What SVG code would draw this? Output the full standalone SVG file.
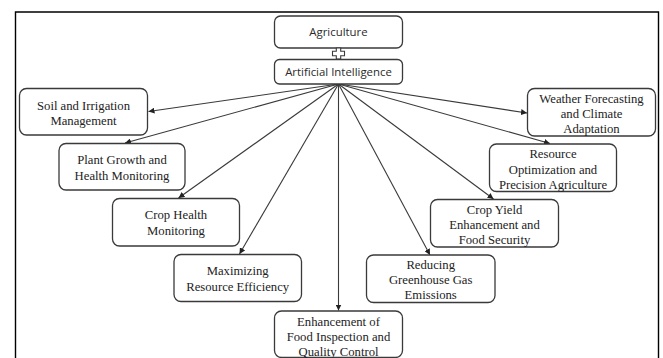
<svg xmlns="http://www.w3.org/2000/svg" width="663" height="358" viewBox="0 0 663 358">
<defs>
<style>
.frame{fill:none;stroke:#000;stroke-width:1.4}
.box{fill:#fff;stroke:#3a3a3a;stroke-width:1.3}
.sans{font-family:"Open Sans","Liberation Sans",sans-serif;font-size:11.4px;fill:#2a2a2a;text-anchor:middle}
.serif{font-family:"Liberation Serif","Times New Roman",serif;font-size:12.7px;fill:#222;text-anchor:middle}
.conn{fill:none;stroke:#3a3a3a;stroke-width:1.1}
</style>
<marker id="ah" viewBox="0 0 10 10" refX="10" refY="5" markerWidth="6" markerHeight="6" markerUnits="userSpaceOnUse" orient="auto">
<path d="M0,0 L10,5 L0,10 z" fill="#222"/>
</marker>
</defs>
<rect width="663" height="358" fill="#fff"/>
<path class="frame" d="M15.5,358 V12 H658.5 V358"/>

<g id="connectors">
<line class="conn" x1="338.5" y1="84" x2="148.5" y2="111.5" marker-end="url(#ah)"/>
<line class="conn" x1="338.5" y1="84" x2="527" y2="113" marker-end="url(#ah)"/>
<line class="conn" x1="338.5" y1="84" x2="125" y2="143" marker-end="url(#ah)"/>
<line class="conn" x1="338.5" y1="84" x2="550" y2="143.5" marker-end="url(#ah)"/>
<line class="conn" x1="338.5" y1="84" x2="178.5" y2="198" marker-end="url(#ah)"/>
<line class="conn" x1="338.5" y1="84" x2="493.5" y2="199" marker-end="url(#ah)"/>
<line class="conn" x1="338.5" y1="84" x2="239.5" y2="254" marker-end="url(#ah)"/>
<line class="conn" x1="338.5" y1="84" x2="430" y2="255" marker-end="url(#ah)"/>
<line class="conn" x1="338.5" y1="84" x2="338.5" y2="310.5" marker-end="url(#ah)"/>
</g>

<g id="agriculture">
<rect class="box" x="274.5" y="16" width="128" height="32" rx="6"/>
<text class="sans" x="338.5" y="36">Agriculture</text>
</g>
<g id="plus">
<polygon points="336.3,48 340.7,48 340.7,51.3 344.5,51.3 344.5,55.7 340.7,55.7 340.7,59 336.3,59 336.3,55.7 332.5,55.7 332.5,51.3 336.3,51.3" fill="#fff" stroke="#3a3a3a" stroke-width="1.1"/>
</g>
<g id="ai">
<rect class="box" x="274.5" y="59.5" width="128" height="24.5" rx="5"/>
<text class="sans" x="338.5" y="75.5">Artificial Intelligence</text>
</g>

<g id="soil">
<rect class="box" x="19.5" y="88.5" width="128" height="46.5" rx="7"/>
<text class="serif" x="83.5" y="109.5">Soil and Irrigation</text>
<text class="serif" x="83.5" y="125">Management</text>
</g>
<g id="weather">
<rect class="box" x="527.5" y="88.5" width="128" height="47.5" rx="7"/>
<text class="serif" x="591.5" y="102.7">Weather Forecasting</text>
<text class="serif" x="591.5" y="117.9">and Climate</text>
<text class="serif" x="591.5" y="133">Adaptation</text>
</g>
<g id="plant">
<rect class="box" x="59" y="143.5" width="126" height="46.5" rx="7"/>
<text class="serif" x="122" y="164.4">Plant Growth and</text>
<text class="serif" x="122" y="179.6">Health Monitoring</text>
</g>
<g id="resource">
<rect class="box" x="489.5" y="144" width="127" height="47.5" rx="7"/>
<text class="serif" x="553" y="158.4">Resource</text>
<text class="serif" x="553" y="173.7">Optimization and</text>
<text class="serif" x="553" y="188.8">Precision Agriculture</text>
</g>
<g id="crophealth">
<rect class="box" x="112.5" y="198.5" width="127" height="47.5" rx="7"/>
<text class="serif" x="176" y="219.4">Crop Health</text>
<text class="serif" x="176" y="235">Monitoring</text>
</g>
<g id="cropyield">
<rect class="box" x="430.5" y="199.5" width="128" height="47.5" rx="7"/>
<text class="serif" x="494.5" y="213.5">Crop Yield</text>
<text class="serif" x="494.5" y="228.8">Enhancement and</text>
<text class="serif" x="494.5" y="244.2">Food Security</text>
</g>
<g id="maximizing">
<rect class="box" x="174" y="254.5" width="127.5" height="47" rx="7"/>
<text class="serif" x="237.7" y="275">Maximizing</text>
<text class="serif" x="237.7" y="291">Resource Efficiency</text>
</g>
<g id="reducing">
<rect class="box" x="366.5" y="255" width="128.5" height="47.5" rx="7"/>
<text class="serif" x="430.7" y="268.5">Reducing</text>
<text class="serif" x="430.7" y="283.8">Greenhouse Gas</text>
<text class="serif" x="430.7" y="299.3">Emissions</text>
</g>
<g id="enhancement">
<rect class="box" x="274.5" y="311" width="128" height="46.5" rx="7"/>
<text class="serif" x="338.5" y="326">Enhancement of</text>
<text class="serif" x="338.5" y="341">Food Inspection and</text>
<text class="serif" x="338.5" y="355.5">Quality Control</text>
</g>
</svg>
